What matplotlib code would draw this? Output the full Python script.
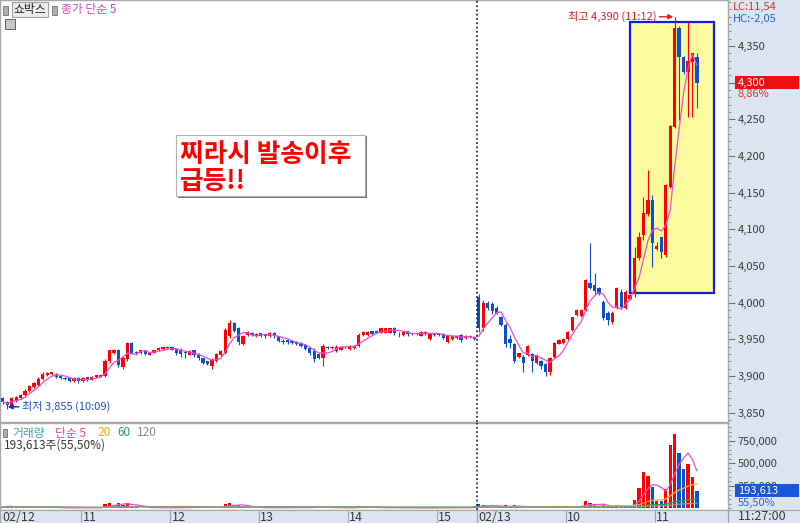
import numpy as np
import pandas as pd
import matplotlib
matplotlib.use('Agg')
import matplotlib.pyplot as plt
from matplotlib.patches import Rectangle
from matplotlib.lines import Line2D
from matplotlib.ticker import MultipleLocator, FixedLocator, FuncFormatter

plt.rcParams['font.family'] = ['Noto Sans CJK KR', 'DejaVu Sans']

# ---------------- data (3-minute bars, 02/12 10:06 ... 02/13 11:27) ----------------
opens = [3870,3865,3858,3866,3870,3874,3880,3885,3888,3896,
         3902,3903,3903,3900,3897,3897,3893,3897,3893,3898,
         3895,3898,3899,3900,3920,3932,3935,3912,3923,3945,
         3932,3931,3935,3929,3932,3935,3937,3938,3940,3937,
         3936,3932,3929,3935,3930,3924,3920,3914,3920,3928,
         3932,3955,3972,3965,3944,3956,3959,3955,3958,3957,
         3954,3959,3954,3948,3949,3948,3947,3945,3942,3938,
         3934,3930,3925,3940,3938,3934,3936,3939,3937,3938,
         3941,3956,3956,3961,3962,3959,3959,3959,3966,3959,
         3956,3961,3958,3958,3955,3957,3950,3956,3957,3957,
         3947,3950,3952,3956,3952,3955,3953,
         4008,3965,4000,3998,3993,3980,3970,3950,3943,3926,
         3926,3929,3930,3918,3920,3916,3905,3926,3944,3945,
         3950,3963,3983,3982,3990,4027,4024,4020,4001,3986,
         3973,3993,4015,3993,4005,
         4012,4061,4092,4121,4140,4073,4089,4065,4158,4240,
         4375,4335,4315,4328,4335]
highs = [3872,3866,3872,3873,3876,3882,3888,3892,3898,3905,
         3905,3906,3904,3901,3898,3898,3898,3898,3899,3899,
         3900,3902,3903,3923,3936,3937,3937,3927,3946,3947,
         3934,3936,3936,3933,3936,3939,3940,3941,3941,3938,
         3938,3934,3936,3936,3931,3925,3921,3924,3932,3936,
         3966,3976,3974,3967,3956,3961,3960,3958,3959,3958,
         3960,3960,3955,3950,3950,3949,3948,3946,3943,3939,
         3938,3932,3943,3941,3941,3942,3941,3941,3942,3942,
         3958,3961,3961,3962,3963,3966,3966,3966,3967,3960,
         3961,3962,3959,3959,3961,3961,3958,3958,3958,3958,
         3955,3956,3956,3957,3956,3956,3954,
         4012,4003,4002,4001,3995,3982,3972,3956,3945,3932,
         3928,3942,3932,3930,3922,3918,3926,3946,3950,3952,
         3961,3981,3991,3991,4032,4081,4040,4022,4003,3988,
         3988,4022,4018,4017,4012,
         4076,4097,4144,4181,4147,4083,4090,4162,4243,4390,
         4377,4337,4383,4340,4340]
lows = [3862,3855,3856,3864,3868,3872,3878,3883,3886,3894,
        3900,3901,3897,3896,3894,3892,3892,3891,3892,3893,
        3894,3897,3898,3899,3918,3930,3912,3910,3921,3930,
        3929,3930,3929,3928,3931,3934,3936,3937,3935,3929,
        3926,3924,3928,3926,3922,3916,3915,3909,3919,3926,
        3930,3952,3960,3942,3942,3955,3955,3953,3953,3952,
        3953,3952,3946,3944,3944,3943,3942,3940,3936,3929,
        3919,3923,3914,3937,3937,3933,3935,3938,3936,3937,
        3940,3955,3955,3956,3958,3958,3958,3958,3956,3953,
        3955,3955,3956,3956,3954,3956,3949,3955,3955,3950,
        3945,3949,3951,3947,3951,3952,3949,
        3960,3962,3990,3985,3984,3968,3940,3938,3918,3924,
        3905,3927,3905,3916,3910,3900,3902,3925,3943,3944,
        3949,3962,3982,3981,3988,4018,4012,4010,3977,3970,
        3971,3992,3991,3991,4003,
        4008,4058,4085,4118,4049,4072,4061,4062,4156,4238,
        4249,4312,4253,4253,4265]
closes = [3865,3860,3870,3871,3874,3880,3886,3890,3896,3903,
          3904,3905,3898,3897,3896,3893,3897,3893,3897,3895,
          3899,3901,3902,3920,3935,3935,3915,3925,3945,3932,
          3931,3935,3930,3932,3935,3938,3939,3940,3936,3932,
          3930,3931,3934,3928,3924,3918,3917,3922,3930,3934,
          3963,3972,3962,3946,3954,3960,3956,3957,3955,3954,
          3959,3954,3948,3947,3946,3945,3944,3941,3937,3931,
          3923,3925,3941,3938,3940,3940,3940,3940,3941,3941,
          3956,3960,3960,3957,3959,3965,3965,3965,3958,3958,
          3960,3957,3957,3957,3960,3960,3957,3957,3956,3952,
          3954,3955,3955,3949,3955,3953,3950,
          3965,4000,3993,3988,3986,3970,3943,3945,3921,3931,
          3918,3941,3920,3929,3914,3905,3925,3945,3949,3950,
          3960,3980,3990,3990,4031,4020,4016,4012,3979,3976,
          3986,4020,3994,4015,4010,
          4061,4089,4122,4140,4081,4077,4069,4160,4241,4375,
          4335,4315,4330,4340,4300]
volumes = [12000,25000,18000,9000,7000,11000,14000,9000,13000,16000,
           6000,5000,4000,3000,5000,4000,3000,6000,4000,3000,
           5000,4000,6000,45000,62000,30000,55000,38000,58000,26000,
           8000,6000,5000,4000,6000,5000,3000,4000,5000,9000,
           7000,8000,5000,7000,9000,12000,8000,15000,10000,8000,
           48000,55000,30000,35000,18000,9000,6000,5000,6000,4000,
           5000,6000,8000,5000,4000,5000,4000,6000,9000,10000,
           14000,8000,12000,6000,4000,7000,5000,3000,6000,5000,
           28000,12000,8000,6000,5000,7000,6000,5000,8000,5000,
           4000,5000,3000,3000,5000,4000,6000,3000,4000,6000,
           9000,6000,5000,8000,6000,4000,22000,
           45000,38000,22000,18000,15000,20000,32000,14000,30000,10000,
           16000,12000,14000,10000,9000,15000,18000,22000,12000,10000,
           15000,28000,20000,18000,75000,60000,30000,22000,35000,20000,
           15000,30000,25000,28000,18000,
           89000,222000,400000,356000,233000,78000,78000,211000,700000,822000,
           611000,433000,489000,348850,193613]

tick_bars = [18, 38, 58, 78, 98, 107, 127, 147]
tick_labels = ['11', '12', '13', '14', '15', '02/13', '10', '11']
first_label = '02/12'
day2_start = 107
last_time = '11:27:00'
stock_name = '쇼박스'

# ---------------- figure ----------------
W, H = 800, 523
fig = plt.figure(figsize=(W / 100, H / 100), dpi=100)
fig.patch.set_facecolor('white')

def fx(x):
    return x / W

def fy(y):
    return 1 - y / H

PANEL = '#dbe5f1'
GRID = '#9aa6b4'
RED = '#ff0000'
BLUE = '#0a50d2'
PINK = '#f04ccc'
TXT = '#3a3a3a'

fig.patches.append(Rectangle((fx(728), 0), 1 - fx(728), 1, transform=fig.transFigure,
                             facecolor=PANEL, edgecolor='none', zorder=-5))

o = np.array(opens, float)
h = np.array(highs, float)
l = np.array(lows, float)
c = np.array(closes, float)
v = np.array(volumes, float)
n = len(c)
idx = np.arange(n)
up = c >= o
cols = np.where(up, RED, BLUE)
xlim = (-0.63, 163.0)
BW = 0.74

# ---------------- price panel ----------------
ax = fig.add_axes([0, fy(422), fx(728), 422 / H])
ax.set_facecolor('white')
ax.set_xlim(*xlim)
ax.set_ylim(3837.3, 4412.8)

ax.add_patch(Rectangle((140.9, 4013), 18.9, 370, facecolor='#fbfb9e',
                       edgecolor='#1818e0', lw=1.6, zorder=1))

ax.vlines(idx, l, h, colors=cols, lw=0.8, zorder=3)
body_lo = np.minimum(o, c)
body_h = np.maximum(np.abs(c - o), 1.2)
ax.bar(idx, body_h, bottom=body_lo, width=BW, color=cols, linewidth=0, zorder=3)

ma5 = pd.Series(c).rolling(5, min_periods=1).mean()
ax.plot(idx, ma5, color=PINK, lw=0.9, zorder=4)

ax.axvline(day2_start - 0.5, color='#111111', ls=(0, (1.2, 1.6)), lw=1.1, zorder=5)

ax.yaxis.tick_right()
ax.yaxis.set_major_locator(FixedLocator(np.arange(3850, 4351, 50)))
ax.yaxis.set_minor_locator(MultipleLocator(10))
ax.yaxis.set_major_formatter(FuncFormatter(lambda val, p: f'{int(val):,}'))
ax.tick_params(axis='y', which='major', length=5, width=0.8, color='#707070',
               labelsize=8, labelcolor=TXT, pad=2)
ax.tick_params(axis='y', which='minor', length=2.5, width=0.6, color='#808080')
ax.tick_params(axis='x', bottom=False, labelbottom=False)
for s in ax.spines.values():
    s.set_color('#a8a8a8')
    s.set_linewidth(1)

imax = int(np.argmax(h))
imin = int(np.argmin(l))
ax.annotate(f'최고 {h[imax]:,.0f} (11:12)', xy=(imax - 0.3, h[imax]), xytext=(-12, 0),
            textcoords='offset points', ha='right', va='center', fontsize=8, color='#e02020',
            arrowprops=dict(arrowstyle='-|>', color='#e02020', lw=1, shrinkA=0, shrinkB=0,
                            mutation_scale=7), zorder=6)
ax.annotate(f'최저 {l[imin]:,.0f} (10:09)', xy=(imin + 0.1, l[imin] + 3), xytext=(10, 0),
            textcoords='offset points', ha='left', va='center', fontsize=8, color='#2050c8',
            arrowprops=dict(arrowstyle='-|>', color='#1030c0', lw=1, shrinkA=0, shrinkB=0,
                            mutation_scale=7), zorder=6)

# message box
ax.add_patch(Rectangle((178 / 728, 1 - 198 / 422), 189 / 728, 62 / 422,
                       transform=ax.transAxes, facecolor='#707070', edgecolor='none', zorder=6))
ax.add_patch(Rectangle((176 / 728, 1 - 196 / 422), 189 / 728, 61 / 422,
                       transform=ax.transAxes, facecolor='white', edgecolor='#b0b0b0',
                       lw=0.8, zorder=7))
ax.text(180 / 728, 1 - 154 / 422, '찌라시 발송이후', transform=ax.transAxes, ha='left',
        va='center', fontsize=18.5, fontweight='bold', color='#ff0000', zorder=8)
ax.text(180 / 728, 1 - 181 / 422, '급등!!', transform=ax.transAxes, ha='left',
        va='center', fontsize=18.5, fontweight='bold', color='#ff0000', zorder=8)

# ---------------- volume panel ----------------
axv = fig.add_axes([0, fy(510), fx(728), (510 - 423) / H], sharex=ax)
axv.set_facecolor('white')
axv.set_ylim(-20000, 945000)
axv.bar(idx, v, width=BW, color=cols, linewidth=0, zorder=3)
for win, colr in [(5, PINK), (20, '#ffae1a'), (60, '#1fa04a'), (120, '#9a9a9a')]:
    axv.plot(idx, pd.Series(v).rolling(win, min_periods=1).mean(), color=colr, lw=0.9, zorder=4)
axv.axvline(day2_start - 0.5, color='#111111', ls=(0, (1.2, 1.6)), lw=1.1, zorder=5)
axv.yaxis.tick_right()
axv.yaxis.set_major_locator(FixedLocator([250000, 500000, 750000]))
axv.yaxis.set_minor_locator(MultipleLocator(50000))
axv.yaxis.set_major_formatter(FuncFormatter(lambda val, p: f'{int(val):,}'))
axv.tick_params(axis='y', which='major', length=5, width=0.8, color='#707070',
                labelsize=8, labelcolor=TXT, pad=2)
axv.tick_params(axis='y', which='minor', length=2.5, width=0.6, color='#808080')
axv.tick_params(axis='x', bottom=False, labelbottom=False)
for s in axv.spines.values():
    s.set_color('#a8a8a8')
    s.set_linewidth(1)

# ---------------- time strip ----------------
axt = fig.add_axes([0, 0, fx(728), fy(510)], sharex=ax)
axt.set_facecolor(PANEL)
axt.set_ylim(0, 1)
axt.tick_params(left=False, bottom=False, labelleft=False, labelbottom=False)
for s in axt.spines.values():
    s.set_color('#a8a8a8')
for tb, lab in zip(tick_bars, tick_labels):
    axt.axvline(tb - 0.5, color=GRID, lw=0.8)
    axt.text(tb - 0.1, 0.45, lab, ha='left', va='center', fontsize=9, color=TXT)
axt.text(xlim[0] + 0.6, 0.45, first_label, ha='left', va='center', fontsize=9, color=TXT)
fig.lines.append(Line2D([fx(728), fx(728)], [0, fy(510)], transform=fig.transFigure,
                        color=GRID, lw=0.8))
fig.lines.append(Line2D([fx(728), 1], [fy(510), fy(510)], transform=fig.transFigure,
                        color='#a8a8a8', lw=0.8))
fig.text(fx(738), fy(516), last_time, ha='left', va='center', fontsize=9, color=TXT)

# ---------------- right panel texts ----------------
last = c[-1]
lc = (last / l.min() - 1) * 100
hc = (last / h.max() - 1) * 100
prev_close = c[day2_start - 1]
chg = (last / prev_close - 1) * 100
vratio = v[-1] / v[-2] * 100

def comma_dec(val):
    return f'{val:.2f}'.replace('.', ',')

fig.text(fx(733), fy(7), f'LC:{comma_dec(lc)}', ha='left', va='center', fontsize=8, color='#e03030')
fig.text(fx(733), fy(19), f'HC:{comma_dec(hc)}', ha='left', va='center', fontsize=8, color='#3060d0')
fig.patches.append(Rectangle((fx(735), fy(89)), fx(799) - fx(735), 13 / H,
                             transform=fig.transFigure, facecolor='#ee1010', edgecolor='none', zorder=3))
fig.text(fx(738), fy(82.5), f'{last:,.0f}', ha='left', va='center', fontsize=8, color='white', zorder=4)
fig.text(fx(738), fy(94), f'{comma_dec(chg)}%', ha='left', va='center', fontsize=8, color='#e03030')

fig.patches.append(Rectangle((fx(735), fy(497)), fx(799) - fx(735), 13 / H,
                             transform=fig.transFigure, facecolor='#1a56d8', edgecolor='none', zorder=3))
fig.text(fx(738), fy(490.5), f'{v[-1]:,.0f}', ha='left', va='center', fontsize=8, color='white', zorder=4)
fig.text(fx(738), fy(503), f'{comma_dec(vratio)}%', ha='left', va='center', fontsize=8, color='#3060d0')

# ---------------- top-left legend widgets ----------------
fig.patches.append(Rectangle((fx(3), fy(15)), 5 / W, 9 / H, transform=fig.transFigure,
                             facecolor='#b0b0b0', edgecolor='#707070', lw=0.6))
fig.patches.append(Rectangle((fx(12), fy(17)), 36 / W, 15 / H, transform=fig.transFigure,
                             facecolor='#ececec', edgecolor='#a0a0a0', lw=0.8))
fig.text(fx(30), fy(9.5), stock_name, ha='center', va='center', fontsize=8.5, color='#202020')
fig.patches.append(Rectangle((fx(52), fy(15)), 5 / W, 9 / H, transform=fig.transFigure,
                             facecolor='#b0b0b0', edgecolor='#707070', lw=0.6))
fig.text(fx(61), fy(9.5), '종가 단순 5', ha='left', va='center', fontsize=8.5, color='#e040c0')
fig.patches.append(Rectangle((fx(5), fy(29)), 10 / W, 10 / H, transform=fig.transFigure,
                             facecolor='#c8c8c8', edgecolor='#606060', lw=0.7))

fig.patches.append(Rectangle((fx(3), fy(437)), 4 / W, 8 / H, transform=fig.transFigure,
                             facecolor='#b0b0b0', edgecolor='#707070', lw=0.6))
vx = 12
for txt, colr, gap in [('거래량', '#38a4ac', 43), ('단순 5', '#e040c0', 42), ('20', '#ffa500', 20),
                       ('60', '#28a050', 20), ('120', '#8a8a8a', 0)]:
    fig.text(fx(vx), fy(433), txt, ha='left', va='center', fontsize=8.5, color=colr)
    vx += gap
fig.text(fx(4), fy(445), f'{v[-1]:,.0f}주({comma_dec(vratio)}%)', ha='left', va='center',
         fontsize=8.5, color=TXT)

fig.savefig('out.png', dpi=100)
